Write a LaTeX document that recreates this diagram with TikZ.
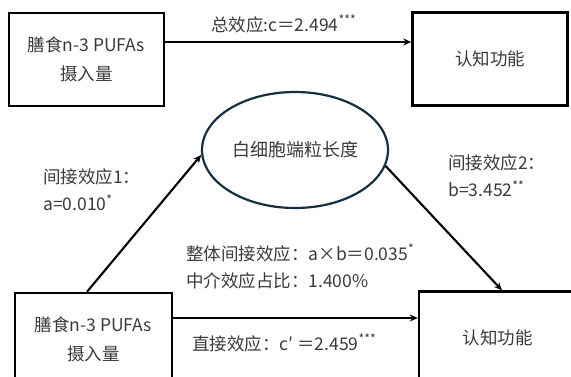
\documentclass[tikz,border=0pt]{standalone}
\usepackage{fontspec}
\setmainfont{Noto Sans CJK SC}
\usetikzlibrary{shapes.geometric,arrows.meta}
\definecolor{txt}{HTML}{3A3A3A}
\definecolor{navy}{HTML}{14303F}
\tikzset{
  x=1pt,y=-1pt,
  box/.style={draw=black,line width=2.4pt,rectangle,minimum width=155pt,minimum height=93pt,
    inner sep=0pt,align=center,text=txt,font=\fontsize{17.5}{29}\selectfont},
  oval/.style={draw=navy,line width=2.2pt,ellipse,minimum width=186pt,minimum height=116pt,
    inner sep=0pt,text=txt,font=\fontsize{18}{27}\selectfont},
  lbl/.style={anchor=west,inner sep=0pt,align=left,text=txt,font=\fontsize{17.5}{27}\selectfont},
  arr/.style={draw=black,line width=2.1pt,-{Stealth[length=8pt,width=7pt]}},
}
\newcommand{\sig}[1]{\textsuperscript{#1}}
\begin{document}
\begin{tikzpicture}
\useasboundingbox (0,0) rectangle (571,376);
\clip (0,0) rectangle (571,376);
\node[box] (tl) at (86.5,59.5) {膳食n-3 PUFAs\\摄入量};
\node[box] (tr) at (490,59) {认知功能};
\node[box,minimum width=157pt] (bl) at (93.5,339.5) {膳食n-3 PUFAs\\摄入量};
\node[box,minimum width=157pt] (br) at (497.5,338) {认知功能};
\node[oval] (m) at (295,150) {白细胞端粒长度};

\draw[arr] (tl.east |- 0,42) -- (tr.west |- 0,42);
\draw[arr] (bl.east |- 0,318) -- (br.west |- 0,318);
\draw[arr] (bl.north -| 87,0) -- (m.183);
\draw[arr] (m.-10) -- (br.north -| 502,0);

\node[lbl] (lc) at (211,24) {总效应:c＝2.494\sig{***}};
\node[lbl] (la) at (43,189.5) {间接效应1：\\a=0.010\sig{*}};
\node[lbl] (lb) at (448,176) {间接效应2：\\b=3.452\sig{**}};
\node[lbl] (lab) at (186,266.5) {整体间接效应：a×b＝0.035\sig{*}\\中介效应占比：1.400\%};
\node[lbl] (ld) at (192,343) {直接效应：c′ ＝2.459\sig{***}};
\end{tikzpicture}
\end{document}
